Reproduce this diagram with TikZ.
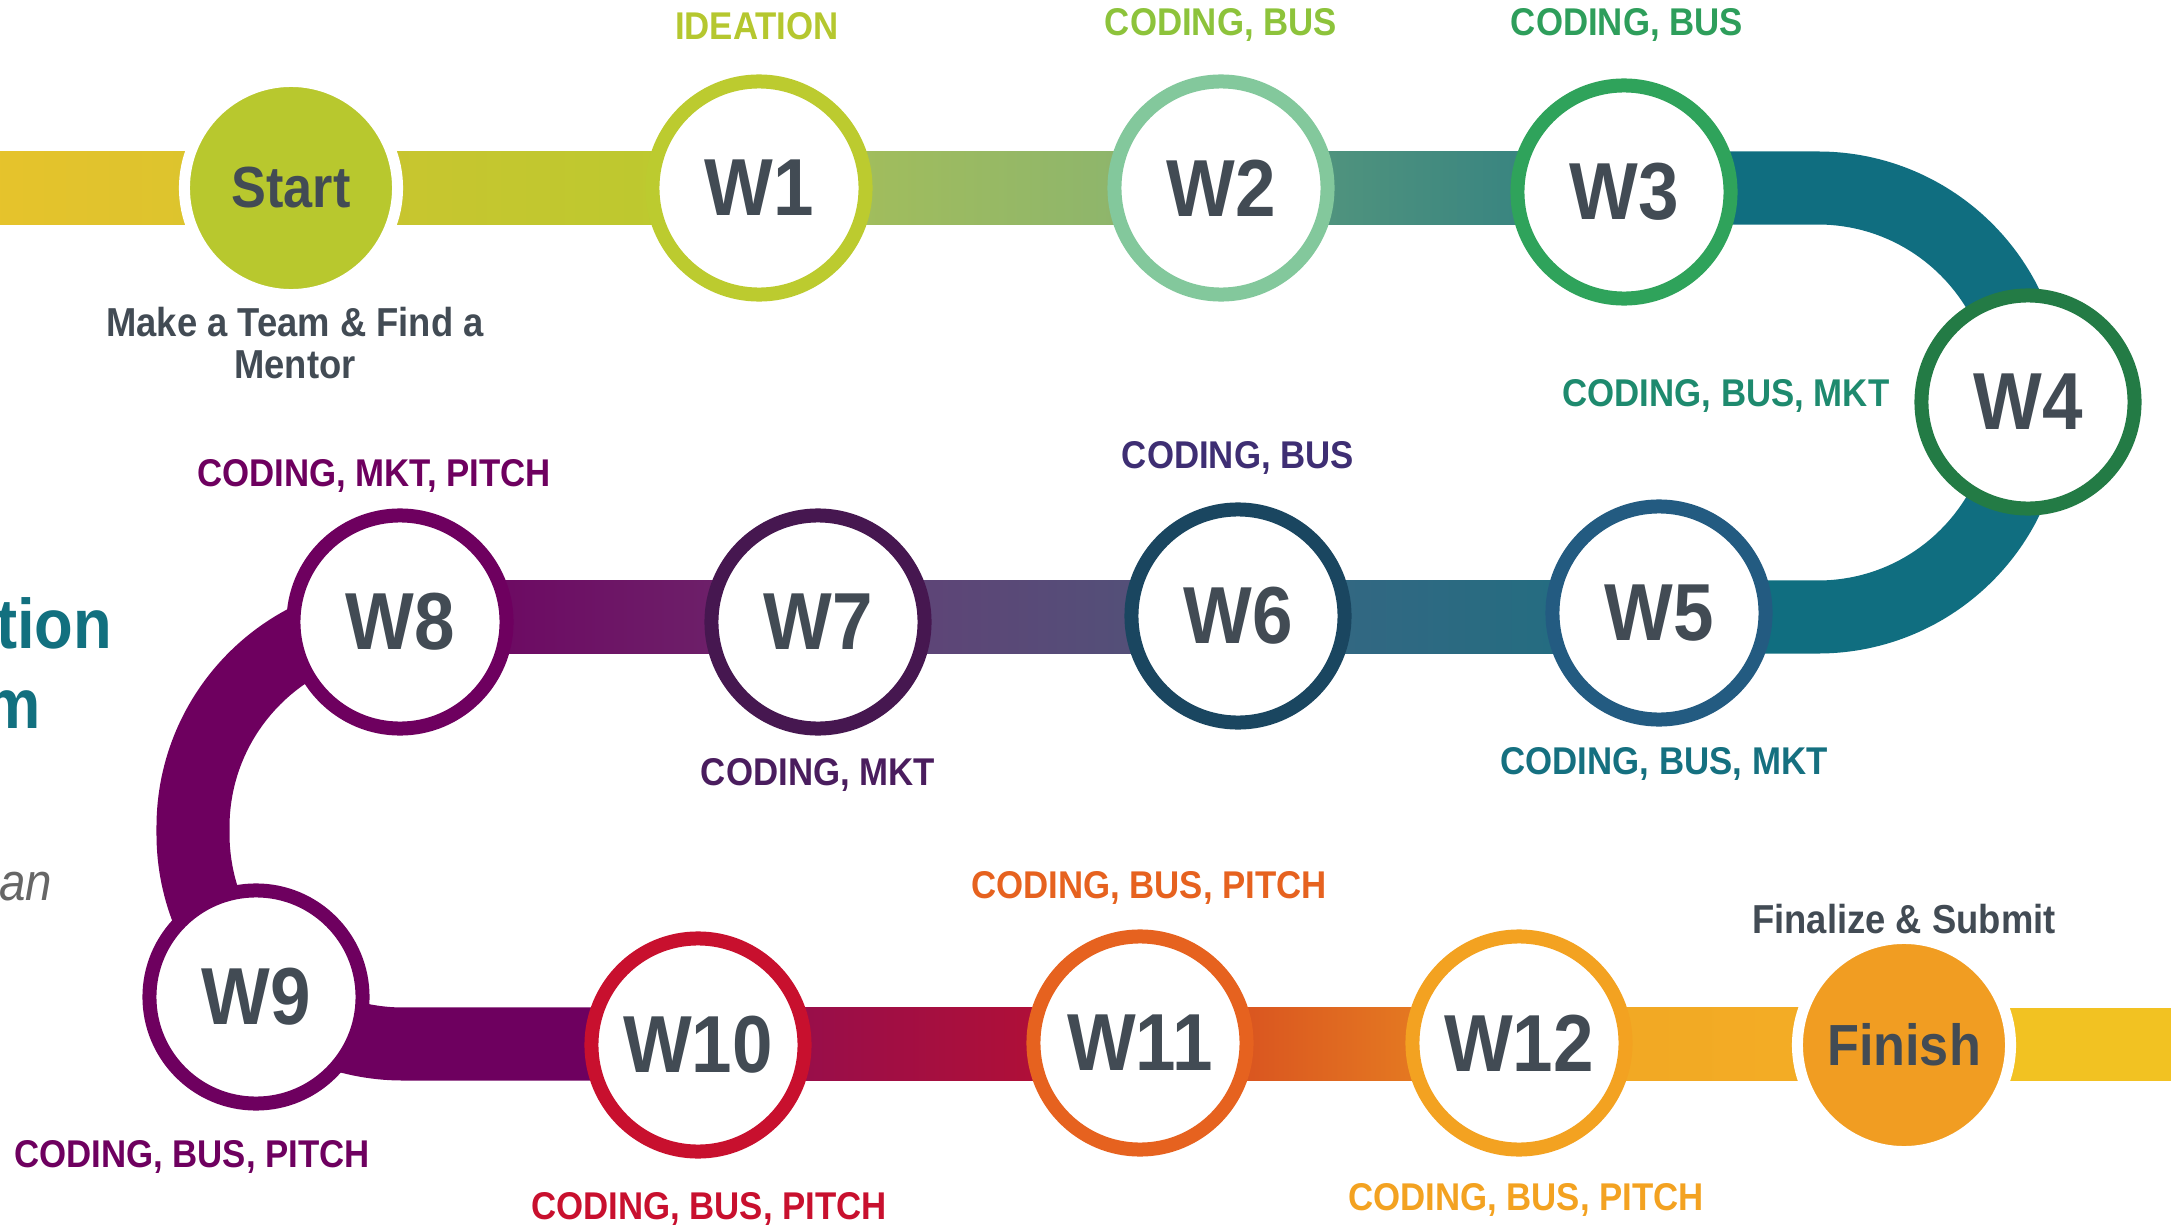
\documentclass[tikz,border=0pt]{standalone}
\usepackage{fontspec}
\setmainfont{Liberation Sans}[FakeStretch=0.9]
\usetikzlibrary{calc,backgrounds}

\definecolor{darktxt}{HTML}{424B54}
\definecolor{startfill}{HTML}{B8C82E}
\definecolor{finishfill}{HTML}{F19D22}
\definecolor{ring1}{HTML}{BCCB2F}
\definecolor{ring2}{HTML}{83C89C}
\definecolor{ring3}{HTML}{2FA35B}
\definecolor{ring4}{HTML}{237B45}
\definecolor{ring5}{HTML}{235B81}
\definecolor{ring6}{HTML}{1A4660}
\definecolor{ring7}{HTML}{461750}
\definecolor{ring8}{HTML}{6E005F}
\definecolor{ring10}{HTML}{C8102E}
\definecolor{ring11}{HTML}{E6621F}
\definecolor{ring12}{HTML}{F3A221}
\definecolor{tealtrack}{HTML}{106E80}
\definecolor{lab1}{HTML}{B5C72F}
\definecolor{lab2}{HTML}{8DC33B}
\definecolor{lab3}{HTML}{2E9E5B}
\definecolor{lab4}{HTML}{1E8A6E}
\definecolor{lab5}{HTML}{157080}
\definecolor{lab6}{HTML}{3E2E73}
\definecolor{lab7}{HTML}{4A1D5E}
\definecolor{titleteal}{HTML}{12707F}
% track shades, left and right end of each stretch
\definecolor{tr0a}{HTML}{E6C32C}\definecolor{tr0b}{HTML}{D8C42E}
\definecolor{tr1a}{HTML}{CCC42F}\definecolor{tr1b}{HTML}{B9CA2F}
\definecolor{tr2a}{HTML}{A9C056}\definecolor{tr2b}{HTML}{86B272}
\definecolor{tr3a}{HTML}{5C9B7C}\definecolor{tr3b}{HTML}{2D7D82}
\definecolor{tr5a}{HTML}{396583}\definecolor{tr5b}{HTML}{1E6F80}
\definecolor{tr6a}{HTML}{633F76}\definecolor{tr6b}{HTML}{4E5579}
\definecolor{tr7a}{HTML}{6E0060}\definecolor{tr7b}{HTML}{6C2A6C}
\definecolor{tr10a}{HTML}{8E0E52}\definecolor{tr10b}{HTML}{BA0F30}
\definecolor{tr11a}{HTML}{D3401F}\definecolor{tr11b}{HTML}{EB8E22}
\definecolor{tr12a}{HTML}{F2A623}\definecolor{tr12b}{HTML}{F3AF26}
\definecolor{tr13}{HTML}{F2C222}

\begin{document}
\begin{tikzpicture}[x=0.01cm,y=-0.01cm]
\tikzstyle{week} = [circle, draw, fill=white, line width=1.4mm, minimum size=21.3mm, inner sep=0pt, text=darktxt, font=\fontsize{23}{23}\selectfont\bfseries]
\tikzstyle{goal} = [circle, draw=white, line width=1.1mm, minimum size=21.3mm, inner sep=0pt, text=darktxt, font=\fontsize{16.5}{16.5}\selectfont\bfseries]
\tikzstyle{tag} = [inner sep=0pt, font=\fontsize{11}{11}\selectfont\bfseries]
\tikzstyle{note} = [inner sep=0pt, align=center, text=darktxt, font=\fontsize{11.5}{12.2}\selectfont\bfseries]
\tikzstyle{track} = [line width=7.3mm]
\useasboundingbox (0,0) rectangle (2171,1230);

% stations
\node [goal, fill=startfill] (start) at (291,188) {Start};
\node [week, draw=ring1] (w1) at (759,188) {W1};
\node [week, draw=ring2] (w2) at (1221,188) {W2};
\node [week, draw=ring3] (w3) at (1624,192) {W3};
\node [week, draw=ring4] (w4) at (2028,402) {W4};
\node [week, draw=ring5] (w5) at (1659,613) {W5};
\node [week, draw=ring6] (w6) at (1238,616) {W6};
\node [week, draw=ring7] (w7) at (818,622) {W7};
\node [week, draw=ring8] (w8) at (400,622) {W8};
\node [week, draw=ring8] (w9) at (256,997) {W9};
\node [week, draw=ring10] (w10) at (698,1045) {W10};
\node [week, draw=ring11] (w11) at (1140,1043) {W11};
\node [week, draw=ring12] (w12) at (1519,1043) {W12};
\node [goal, fill=finishfill] (finish) at (1904,1045) {Finish};

% labels
\node [tag, text=lab1] (t1) at (757,26) {IDEATION};
\node [tag, text=lab2] (t2) at (1221,25) {CODING, BUS};
\node [tag, text=lab3] (t3) at (1627,25) {CODING, BUS};
\node [tag, text=lab4, anchor=east] (t4) at (1890,396) {CODING, BUS, MKT};
\node [tag, text=lab5] (t5) at (1664,764) {CODING, BUS, MKT};
\node [tag, text=lab6] (t6) at (1238,458) {CODING, BUS};
\node [tag, text=lab7] (t7) at (818,775) {CODING, MKT};
\node [tag, text=ring8] (t8) at (374,476) {CODING, MKT, PITCH};
\node [tag, text=ring8] (t9) at (192,1157) {CODING, BUS, PITCH};
\node [tag, text=ring10] (t10) at (709,1209) {CODING, BUS, PITCH};
\node [tag, text=ring11] (t11) at (1149,888) {CODING, BUS, PITCH};
\node [tag, text=ring12] (t12) at (1526,1200) {CODING, BUS, PITCH};
\node [note] (ts) at (295,343) {Make a Team \& Find a\\Mentor};
\node [note] (tf) at (1904,919) {Finalize \& Submit};

% cut-off title at the left edge
\node [anchor=base east, inner sep=0pt, text=titleteal, font=\fontsize{20}{20}\selectfont\bfseries] (h1) at (113,648) {tion};
\node [anchor=base east, inner sep=0pt, text=titleteal, font=\fontsize{20}{20}\selectfont\bfseries] (h2) at (41,728) {m};
\node [anchor=base east, inner sep=0pt, text=black!60, font=\fontsize{15}{15}\selectfont\itshape] (h3) at (53,900) {an};

\begin{pgfonlayer}{background}
\coordinate (row1) at (0,188);
\coordinate (row2) at (0,617);
\coordinate (row3) at (0,1044);
\coordinate (lbend) at (193,0);
\fill [left color=tr0a, right color=tr0b] ($(row1)+(-10,-36.5)$) rectangle ($(start.center |- row1)+(0,36.5)$);
\fill [left color=tr1a, right color=tr1b] ($(start.center |- row1)+(0,-36.5)$) rectangle ($(w1.center |- row1)+(0,36.5)$);
\fill [left color=tr2a, right color=tr2b] ($(w1.center |- row1)+(0,-36.5)$) rectangle ($(w2.center |- row1)+(0,36.5)$);
\fill [left color=tr3a, right color=tr3b] ($(w2.center |- row1)+(0,-36.5)$) rectangle ($(w3.center |- row1)+(0,36.5)$);
\draw [track, draw=tealtrack, rounded corners=21mm] (w3.center |- row1) -- (w4.center |- row1) -- (w4.center |- row2) -- (w5.center |- row2);
\fill [left color=tr5a, right color=tr5b] ($(w6.center |- row2)+(0,-36.5)$) rectangle ($(w5.center |- row2)+(0,36.5)$);
\fill [left color=tr6a, right color=tr6b] ($(w7.center |- row2)+(0,-36.5)$) rectangle ($(w6.center |- row2)+(0,36.5)$);
\fill [left color=tr7a, right color=tr7b] ($(w8.center |- row2)+(0,-36.5)$) rectangle ($(w7.center |- row2)+(0,36.5)$);
\draw [track, draw=ring8, rounded corners=21mm] (w8.center |- row2) -- (lbend |- row2) -- (lbend |- row3) -- (w10.center |- row3);
\fill [left color=tr10a, right color=tr10b] ($(w10.center |- row3)+(0,-36.5)$) rectangle ($(w11.center |- row3)+(0,36.5)$);
\fill [left color=tr11a, right color=tr11b] ($(w11.center |- row3)+(0,-36.5)$) rectangle ($(w12.center |- row3)+(0,36.5)$);
\fill [left color=tr12a, right color=tr12b] ($(w12.center |- row3)+(0,-36.5)$) rectangle ($(finish.center |- row3)+(0,36.5)$);
\fill [tr13] ($(finish.center |- row3)+(0,-36.5)$) rectangle ($(row3)+(2190,36.5)$);
\end{pgfonlayer}
\end{tikzpicture}
\end{document}
